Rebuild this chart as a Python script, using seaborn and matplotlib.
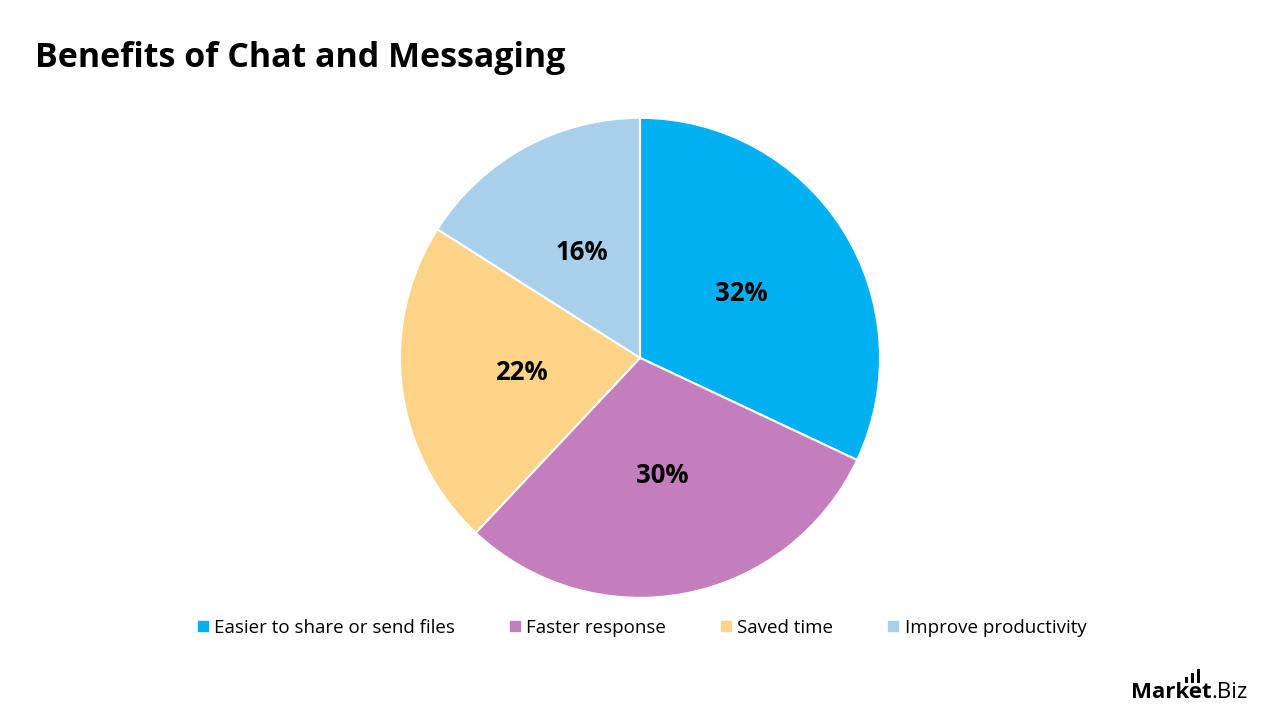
import matplotlib.pyplot as plt
import seaborn as sns
from matplotlib.lines import Line2D
from matplotlib.patches import Rectangle

sns.set_theme(style='white')
plt.rcParams['font.family'] = ['Open Sans', 'DejaVu Sans']
plt.rcParams['text.color'] = 'black'

# data
categorias = ['Easier to share or send files', 'Faster response', 'Saved time', 'Improve productivity']
valores = [32, 30, 22, 16]
cores = ['#00B0F0', '#C47EBE', '#FDD388', '#A9D0EB']

fig = plt.figure(figsize=(12.8, 7.2), dpi=100)
fig.patch.set_facecolor('white')

# pie axes: centro (640,358), raio ~240px
ax = fig.add_axes([0.5 - 240 / 1280, 0.503 - 240 / 720, 480 / 1280, 480 / 720])
wedges, textos, autotextos = ax.pie(
    valores, colors=cores, startangle=90, counterclock=False,
    autopct='%1.0f%%', pctdistance=0.5,
    wedgeprops=dict(edgecolor='white', linewidth=1.5),
    textprops=dict(fontsize=18.5, fontweight='bold', color='black'))
ax.set_xlim(-1, 1)
ax.set_ylim(-1, 1)
ax.set_aspect('equal')
ax.axis('off')

fig.text(35 / 1280, 1 - 58 / 720, 'Benefits of Chat and Messaging',
         fontsize=24.5, fontweight='bold', va='center', ha='left', color='black')

# legenda
handles = [Line2D([0], [0], marker='s', linestyle='', markersize=7,
                  markerfacecolor=c, markeredgecolor=c) for c in cores]
leg = fig.legend(handles, categorias, loc='center', bbox_to_anchor=(0.5, 1 - 628 / 720),
                 ncol=4, frameon=False, fontsize=13.5, handletextpad=0.1,
                 columnspacing=2.7, handlelength=1.0)
for t in leg.get_texts():
    t.set_color('black')

# logo
r = fig.canvas.get_renderer()
t1 = fig.text(1131 / 1280, 1 - 693 / 720, 'Market', fontsize=16, fontweight='bold',
              ha='left', va='center', color='black')
bb = t1.get_window_extent(renderer=r)
fig.text(bb.x1 / 1280, 1 - 693 / 720, '.Biz', fontsize=16,
         ha='left', va='center', color='black')
for i, h in enumerate([6, 10, 14]):
    fig.add_artist(Rectangle(((1185 + 6 * i) / 1280, 1 - 683 / 720), 3 / 1280, h / 720,
                             transform=fig.transFigure, color='black', lw=0))

fig.savefig('out.png', dpi=100, facecolor='white')
